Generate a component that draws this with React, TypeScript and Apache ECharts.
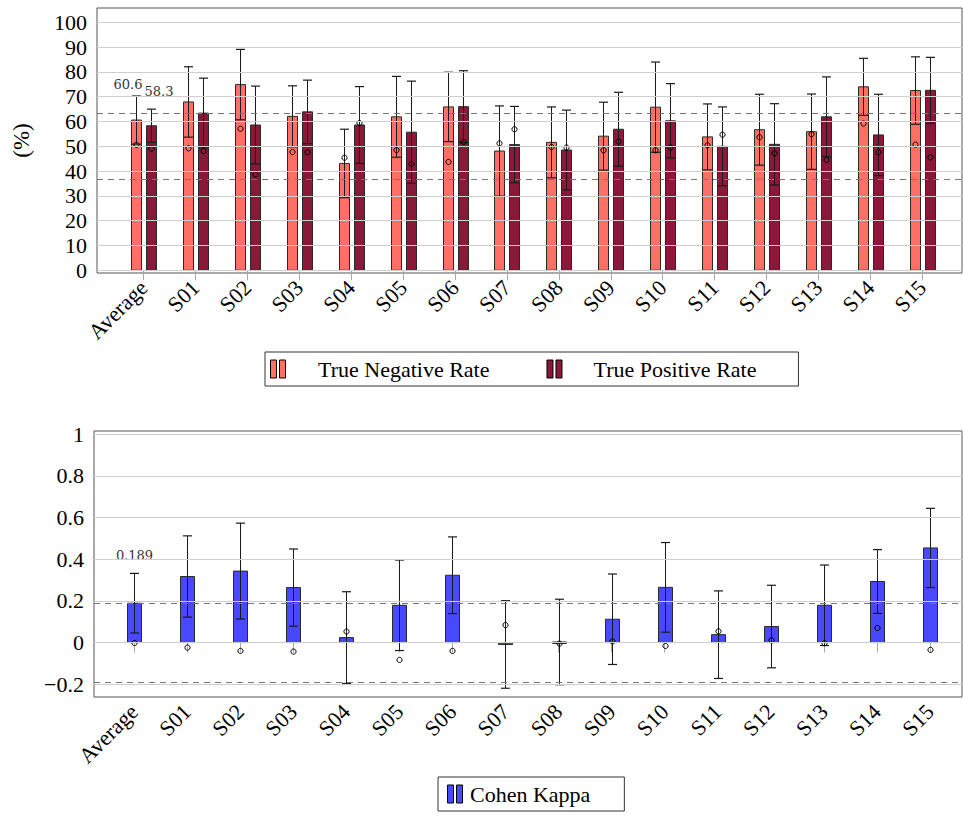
import React, { useEffect, useRef } from 'react';
import * as echarts from 'echarts';

// ---------- data ----------
const categories = ['Average', 'S01', 'S02', 'S03', 'S04', 'S05', 'S06', 'S07', 'S08', 'S09', 'S10', 'S11', 'S12', 'S13', 'S14', 'S15'];

// True Negative Rate (%): mean, standard deviation, median
const tnrMean = [60.6, 67.9, 74.9, 62.1, 43.1, 61.9, 65.9, 48.1, 51.6, 54.1, 65.8, 53.8, 56.7, 55.9, 74.0, 72.5];
const tnrSd = [9.7, 14.2, 14.2, 12.3, 13.8, 16.3, 14.0, 18.2, 14.3, 13.7, 18.2, 13.3, 14.3, 15.2, 11.5, 13.6];
const tnrMedian = [50.6, 49.2, 57.1, 47.7, 45.4, 48.5, 43.7, 51.2, 49.7, 48.4, 48.4, 50.4, 53.7, 54.9, 59.2, 50.7];

// True Positive Rate (%): mean, standard deviation, median
const tprMean = [58.3, 63.4, 58.6, 63.9, 58.6, 55.7, 66.0, 50.7, 48.5, 56.9, 60.3, 50.0, 50.8, 61.9, 54.6, 72.6];
const tprSd = [6.7, 14.1, 15.7, 12.8, 15.5, 20.6, 14.5, 15.4, 16.1, 14.9, 15.0, 15.9, 16.4, 16.1, 16.4, 13.3];
const tprMedian = [49.1, 48.1, 38.7, 47.6, 59.4, 42.9, 51.8, 56.9, 49.5, 51.9, 49.5, 54.7, 47.2, 44.5, 47.6, 45.6];

// Cohen Kappa: mean, standard deviation, median
const kappaMean = [0.189, 0.317, 0.343, 0.264, 0.024, 0.179, 0.323, -0.009, 0.003, 0.112, 0.265, 0.038, 0.077, 0.179, 0.293, 0.454];
const kappaSd = [0.143, 0.195, 0.23, 0.185, 0.22, 0.217, 0.184, 0.21, 0.205, 0.217, 0.215, 0.21, 0.198, 0.193, 0.153, 0.19];
const kappaMedian = [-0.002, -0.024, -0.04, -0.043, 0.053, -0.083, -0.04, 0.084, -0.005, 0.006, -0.016, 0.054, 0.011, -0.003, 0.07, -0.035];

// reference levels (dashed)
const pctLevels = [63.4, 36.6];
const kappaLevels = [0.189, -0.189];

// tick labels
const pctTicks = [0, 10, 20, 30, 40, 50, 60, 70, 80, 90, 100];
const kappaTicks = [-0.2, 0, 0.2, 0.4, 0.6, 0.8, 1];

// ---------- styling ----------
const SERIF = "'Liberation Serif', 'Times New Roman', serif";
const SMALL_SERIF = "'DejaVu Serif', serif";
const TNR_COLOR = '#ff6f66';
const TPR_COLOR = '#8b1838';
const KAPPA_COLOR = '#4848ff';
const LEGEND_ICON = 'path://M0,0H6V18H0Z M9,0H15V18H9Z';

const catIndex = categories.map((_, i) => i);

type BarOpts = {
  offset: number;
  width: number;
  color: string;
  cap: number;
  label?: { dx: number; dy: number; fmt: (v: number) => string };
};

function barRenderer(o: BarOpts) {
  return (params: any, api: any) => {
    const idx = api.value(0);
    const mean = api.value(1);
    const sd = api.value(2);
    const med = api.value(3);
    const top = api.coord([idx, mean]);
    const base = api.coord([idx, 0]);
    const hi = api.coord([idx, mean + sd]);
    const lo = api.coord([idx, mean - sd]);
    const dot = api.coord([idx, med]);
    const cx = Math.round(top[0] + o.offset) + 0.5;
    const y0 = Math.min(top[1], base[1]);
    const h = Math.max(Math.abs(base[1] - top[1]), 1.5);
    const stroke = '#1a1a1a';
    const children: any[] = [
      {
        type: 'rect',
        shape: { x: cx - o.width / 2, y: y0, width: o.width, height: h },
        style: { fill: o.color, stroke: '#2a2a2a', lineWidth: 1 },
      },
      {
        type: 'line',
        shape: { x1: cx, y1: hi[1], x2: cx, y2: lo[1] },
        style: { stroke, lineWidth: 1 },
      },
      {
        type: 'line',
        shape: { x1: cx - o.cap, y1: hi[1], x2: cx + o.cap, y2: hi[1] },
        style: { stroke, lineWidth: 1.2 },
      },
      {
        type: 'line',
        shape: { x1: cx - o.cap, y1: lo[1], x2: cx + o.cap, y2: lo[1] },
        style: { stroke, lineWidth: 1.2 },
      },
      {
        type: 'circle',
        shape: { cx, cy: dot[1], r: 2.6 },
        style: { fill: 'none', stroke: '#000', lineWidth: 1 },
      },
    ];
    if (o.label && idx === 0) {
      children.push({
        type: 'text',
        style: {
          text: o.label.fmt(mean),
          x: cx + o.label.dx,
          y: hi[1] + o.label.dy,
          align: 'center',
          verticalAlign: 'middle',
          fontFamily: SMALL_SERIF,
          fontSize: 13,
          fill: '#333',
        },
      });
    }
    return { type: 'group', children };
  };
}

function rows(mean: number[], sd: number[], med: number[]) {
  return mean.map((m, i) => [i, m, sd[i], med[i]]);
}

function fmtKappa(v: number) {
  const s = String(Number(Math.abs(v).toFixed(1)));
  return v < -1e-9 ? '\u2212' + s : s;
}

function xAxisFor(gridIndex: number, min: number, max: number) {
  return {
    gridIndex,
    type: 'value',
    min,
    max,
    axisLine: { show: false },
    splitLine: { show: false },
    axisTick: { show: true, customValues: catIndex, length: 10, lineStyle: { color: '#aaa' } },
    axisLabel: {
      customValues: catIndex,
      formatter: (v: number) => categories[Math.round(v)] ?? '',
      rotate: 45,
      margin: 11,
      fontFamily: SERIF,
      fontSize: 22,
      color: '#000',
    },
  };
}

function gridLines(ticks: number[], levels: number[], axis: number) {
  return {
    type: 'line',
    xAxisIndex: axis,
    yAxisIndex: axis,
    data: [],
    silent: true,
    z: 1,
    markLine: {
      silent: true,
      symbol: ['none', 'none'],
      label: { show: false },
      lineStyle: { color: '#cfcfcf', type: 'solid', width: 1 },
      data: [
        ...ticks.map((v) => ({ yAxis: v })),
        ...levels.map((v) => ({ yAxis: v, lineStyle: { color: '#777', type: [6, 5], width: 1 } })),
      ],
    },
  };
}

function rightTicks(gridIndex: number, min: number, max: number, ticks: number[]) {
  return {
    gridIndex,
    type: 'value',
    position: 'right',
    min,
    max,
    axisLine: { show: false },
    splitLine: { show: false },
    axisLabel: { show: false },
    axisTick: { show: true, inside: true, length: 6, customValues: ticks, lineStyle: { color: '#999' } },
  };
}

// each legend entry carries its own left text indent
function legendFor(items: { name: string; indent: number }[], left: number, top: number, padding: number[], itemGap: number) {
  return {
    data: items.map((it) => ({
      name: it.name,
      textStyle: { fontFamily: SERIF, fontSize: 22, color: '#000', padding: [0, 0, 0, it.indent] },
    })),
    left,
    top,
    orient: 'horizontal',
    icon: LEGEND_ICON,
    itemWidth: 20,
    itemHeight: 18,
    itemGap,
    padding,
    borderColor: '#333',
    borderWidth: 1,
    selectedMode: false,
    itemStyle: { borderColor: '#000', borderWidth: 1 },
    textStyle: { fontFamily: SERIF, fontSize: 22, color: '#000' },
  };
}

export default function App() {
  const ref = useRef<HTMLDivElement>(null);

  useEffect(() => {
    if (!ref.current) return;
    const chart = echarts.init(ref.current, undefined, { renderer: 'svg' });

    const option: any = {
      animation: false,
      backgroundColor: '#fff',
      textStyle: { fontFamily: SERIF },
      grid: [
        { left: 97, top: 8, width: 865, height: 265, show: true, borderColor: '#555', borderWidth: 1, outerBoundsMode: 'none' },
        { left: 94, top: 431, width: 868, height: 266, show: true, borderColor: '#555', borderWidth: 1, outerBoundsMode: 'none' },
      ],
      xAxis: [xAxisFor(0, -0.897, 15.765), xAxisFor(1, -0.754, 15.602)],
      yAxis: [
        {
          gridIndex: 0,
          type: 'value',
          min: -1.1,
          max: 105.8,
          name: '(%)',
          nameLocation: 'middle',
          nameGap: 64,
          nameTextStyle: { fontFamily: SERIF, fontSize: 23, color: '#000' },
          axisLine: { show: false },
          splitLine: { show: false },
          axisTick: { show: true, inside: true, length: 8, customValues: pctTicks, lineStyle: { color: '#999' } },
          axisLabel: { customValues: pctTicks, margin: 10, fontFamily: SERIF, fontSize: 22, color: '#000' },
        },
        {
          gridIndex: 1,
          type: 'value',
          min: -0.261,
          max: 1.015,
          axisLine: { show: false },
          splitLine: { show: false },
          axisTick: { show: true, inside: true, length: 8, customValues: kappaTicks, lineStyle: { color: '#999' } },
          axisLabel: { customValues: kappaTicks, formatter: fmtKappa, margin: 10, fontFamily: SERIF, fontSize: 22, color: '#000' },
        },
        rightTicks(0, -1.1, 105.8, pctTicks),
        rightTicks(1, -0.261, 1.015, kappaTicks),
      ],
      legend: [
        legendFor(
          [
            { name: 'True Negative Rate', indent: 25 },
            { name: 'True Positive Rate', indent: 24 },
          ],
          265,
          352,
          [6, 42, 6, 5],
          57
        ),
        legendFor([{ name: 'Cohen Kappa', indent: 0 }], 438, 777, [6, 34, 6, 9], 10),
      ],
      series: [
        gridLines(pctTicks, pctLevels, 0),
        {
          name: 'True Negative Rate',
          type: 'custom',
          xAxisIndex: 0,
          yAxisIndex: 0,
          z: 3,
          itemStyle: { color: TNR_COLOR },
          encode: { x: 0, y: 1 },
          data: rows(tnrMean, tnrSd, tnrMedian),
          renderItem: barRenderer({
            offset: -7.5,
            width: 10,
            color: TNR_COLOR,
            cap: 4.5,
            label: { dx: -8.5, dy: -12, fmt: (v) => v.toFixed(1) },
          }),
        },
        {
          name: 'True Positive Rate',
          type: 'custom',
          xAxisIndex: 0,
          yAxisIndex: 0,
          z: 3,
          itemStyle: { color: TPR_COLOR },
          encode: { x: 0, y: 1 },
          data: rows(tprMean, tprSd, tprMedian),
          renderItem: barRenderer({
            offset: 7.5,
            width: 10,
            color: TPR_COLOR,
            cap: 4.5,
            label: { dx: 7.5, dy: -17.5, fmt: (v) => v.toFixed(1) },
          }),
        },
        gridLines(kappaTicks, kappaLevels, 1),
        {
          name: 'Cohen Kappa',
          type: 'custom',
          xAxisIndex: 1,
          yAxisIndex: 1,
          z: 3,
          itemStyle: { color: KAPPA_COLOR },
          encode: { x: 0, y: 1 },
          data: rows(kappaMean, kappaSd, kappaMedian),
          renderItem: barRenderer({
            offset: 0,
            width: 14,
            color: KAPPA_COLOR,
            cap: 4.5,
            label: { dx: 0, dy: -17.5, fmt: (v) => v.toFixed(3) },
          }),
        },
      ],
    };

    chart.setOption(option);
    return () => chart.dispose();
  }, []);

  return (
    <div
      ref={ref}
      style={{ position: 'fixed', left: 0, top: 0, width: 963, height: 816, background: '#fff' }}
    />
  );
}
